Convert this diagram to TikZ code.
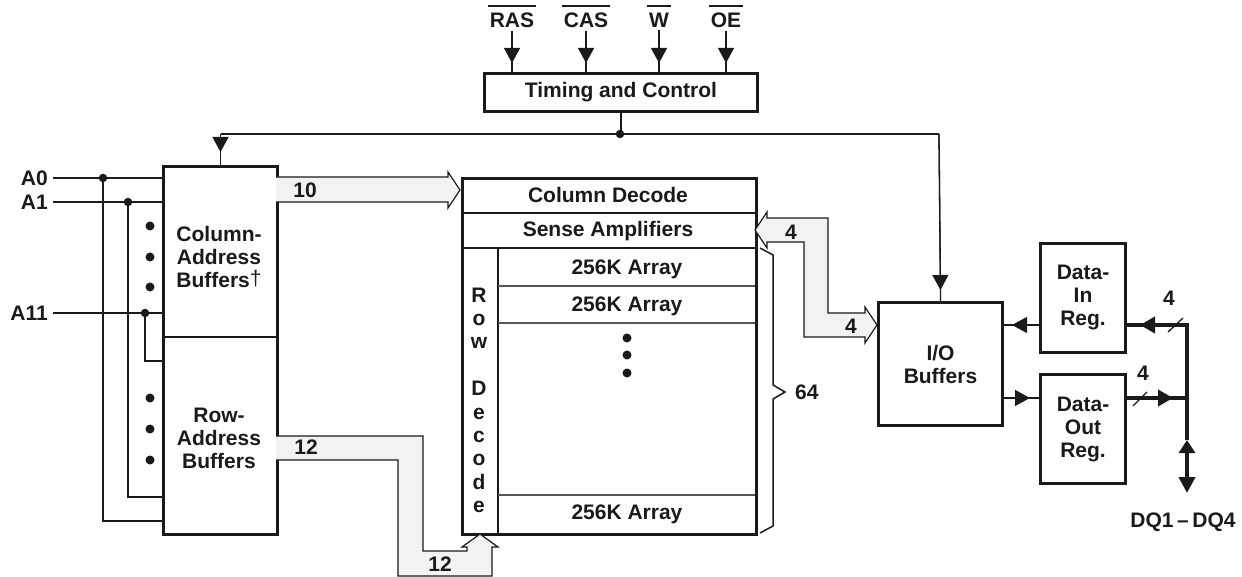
\documentclass[tikz,border=0pt]{standalone}
\usepackage{fontspec}
\setmainfont{Liberation Sans}
\usetikzlibrary{arrows.meta,calc}
\definecolor{ink}{HTML}{1A1A1A}
\definecolor{busfill}{HTML}{F2F2F2}
\definecolor{grid}{HTML}{555555}
\begin{document}
\begin{tikzpicture}[x=1pt,y=-1pt,
  every node/.style={font=\fontsize{21}{23}\selectfont\bfseries, text=ink, inner sep=0pt},
  blk/.style={draw=ink, line width=3pt, anchor=north west, align=center},
  wire/.style={draw=ink, line width=1.3pt},
  thk/.style={draw=ink, line width=4.5pt, line join=miter},
  tri/.style={-{Triangle[width=16pt,length=15pt]}},
  bus/.style={draw=ink, line width=1.2pt, line join=miter},
  busf/.style={fill=busfill},
  jdot/.style={circle, fill=ink, minimum size=8.5pt, inner sep=0pt},
  edot/.style={circle, fill=ink, minimum size=9pt, inner sep=0pt},
  ovl/.style={draw=ink, line width=1.8pt}]
\useasboundingbox (0,0) rectangle (1242,577);

% ---------- Timing and control ----------
\node[blk, minimum width=273pt, minimum height=38pt] (tc) at (483,72) {Timing and Control};
\node (ras) at (512,20) {RAS};
\node (cas) at (586,20) {CAS};
\node (w)   at (659,20) {W};
\node (oe)  at (726,20) {OE};
\foreach \n in {ras,cas,w,oe}{
  \draw[ovl] ([xshift=-2pt,yshift=6.5pt]\n.north west) -- ([xshift=2pt,yshift=6.5pt]\n.north east);
  \draw[wire] ([yshift=-3pt]\n.south) -- (\n.south |- tc.north);
  \draw[wire,tri] ([yshift=-3pt]\n.south) -- ($(\n.south |- tc.north)+(0,-9)$);
}

% ---------- Address buffers ----------
\node[blk, minimum width=114pt, minimum height=368pt] (cab) at (162,165) {};
\draw[ink, line width=1.5pt] (162,337) -- (276,337);
\node[align=center] (cabt) at (219,257) {Column-\\Address\\Buffers\raisebox{2pt}{\fontsize{21}{21}\selectfont\mdseries †}};
\node[align=center] (rabt) at (219,438) {Row-\\Address\\Buffers};

% control distribution
\node[jdot] (jt) at (620,134) {};
\coordinate (cl) at (cab.north |- jt);
\coordinate (cr) at (939,134);
\draw[wire] (tc.south) -- (tc.south |- jt);
\draw[wire] (cl) -- (cr);
\draw[wire] (cl) -- (cab.north);
\draw[wire,tri] (cl) -- ($(cab.north)+(0,-13)$);

% address inputs
\node[anchor=east] (a0)  at (48,178) {A0};
\node[anchor=east] (a1)  at (48,202) {A1};
\node[anchor=east] (a11) at (48,313) {A11};
\node[jdot] (d0)  at (103,178) {};
\node[jdot] (d1)  at (128,202) {};
\node[jdot] (d11) at (145,313) {};
\coordinate (r0)  at (162,521);
\coordinate (r1)  at (162,497);
\coordinate (r11) at (162,361);
\draw[wire] ([xshift=5pt]a0.east)  -- (a0 -| cab.west);
\draw[wire] ([xshift=5pt]a1.east)  -- (a1 -| cab.west);
\draw[wire] ([xshift=5pt]a11.east) -- (a11 -| cab.west);
\draw[wire] (d0.center)  |- (r0);
\draw[wire] (d1.center)  |- (r1);
\draw[wire] (d11.center) |- (r11);
\foreach \yy [count=\i] in {226,257,287,398,429,460}{
  \node[edot] (ed\i) at (150,\yy) {};
}

% ---------- Memory array ----------
\node[blk, minimum width=294pt, minimum height=356pt] (arr) at (461,177) {};
\draw[ink, line width=2pt] (461,213) -- (755,213);
\draw[ink, line width=2pt] (461,248) -- (755,248);
\draw[ink, line width=1.5pt] (498,248) -- (498,533);
\draw[grid, line width=1.2pt] (498,286) -- (755,286);
\draw[grid, line width=1.2pt] (498,323) -- (755,323);
\draw[grid, line width=1.2pt] (498,495) -- (755,495);
\node (cdec) at (608,195) {Column Decode};
\node (samp) at (608,231) {Sense Amplifiers};
\node (ar1) at (627,269) {256K Array};
\node (ar2) at (627,306) {256K Array};
\node (ar3) at (627,514) {256K Array};
\foreach \yy [count=\i] in {338,355,373}{
  \node[edot] (ad\i) at (627,\yy) {};
}
\foreach \ch [count=\k from 0] in {R,o,w,{},D,e,c,o,d,e}{
  \node[anchor=base] (rd\k) at (479,302+23.4*\k) {\ch};
}

% brace 64
\draw[ink, line width=1.5pt, line join=miter] (760,248) -- (773,255) -- (773,385) -- (785,392) -- (773,399) -- (773,526) -- (760,533);
\node[anchor=west] (n64) at (795,392) {64};

% ---------- Buses ----------
% 10
\fill[busf] (276,177) -- (448,177) -- (448,172) -- (460,190) -- (448,208) -- (448,202) -- (276,202) -- cycle;
\draw[bus] (276,177) -- (448,177) -- (448,172) -- (460,190) -- (448,208) -- (448,202) -- (276,202);
\node (b10) at (305,190) {10};
% 12
\fill[busf] (276,436) -- (423,436) -- (423,551) -- (467,551) -- (467,547) -- (462,547) -- (480,534) -- (498,547) -- (492,547) -- (492,576) -- (398,576) -- (398,460) -- (276,460) -- cycle;
\draw[bus] (276,436) -- (423,436) -- (423,551) -- (467,551) -- (467,547) -- (462,547) -- (480,534) -- (498,547) -- (492,547) -- (492,576) -- (398,576) -- (398,460) -- (276,460);
\node (b12a) at (306,447) {12};
\node (b12b) at (440,564) {12};
% 4 (sense amps <-> I/O)
\filldraw[bus, busf] (755,230) -- (767,212) -- (767,218) -- (828,218) -- (828,313) -- (865,313) -- (865,307) -- (877,325) -- (865,343) -- (865,337) -- (804,337) -- (804,242) -- (767,242) -- (767,248) -- cycle;
\node (b4a) at (791,232) {4};
\node (b4b) at (851,326) {4};

% ---------- I/O and data registers ----------
\node[blk, minimum width=124pt, minimum height=123pt] (io) at (877,301) {I/O\\Buffers};
\draw[wire] (cr) -- (io.north);
\draw[wire,tri] (cr) -- ($(io.north)+(0,-11)$);

\node[blk, minimum width=85pt, minimum height=109pt] (din) at (1039,242) {Data-\\In\\Reg.};
\node[blk, minimum width=85pt, minimum height=109pt] (dout) at (1039,373) {Data-\\Out\\Reg.};

\coordinate (yin) at (0,325);
\coordinate (yout) at (0,398);
\draw[wire] (din.west |- yin) -- (io.east |- yin);
\draw[wire,tri] (din.west |- yin) -- (1012,325);
\draw[wire] (io.east |- yout) -- (dout.west |- yout);
\draw[wire,tri] (io.east |- yout) -- (1030,398);

\coordinate (bj) at (1187,325);
\coordinate (bo) at (1187,398);
\coordinate (bu) at (1187,440);
\coordinate (bd) at (1187,493);
\draw[thk] (din.east |- yin) -- (bj) -- (bu);
\draw[thk,tri] (bj) -- (1140,325);
\draw[thk] (dout.east |- yout) -- (bo);
\draw[thk,tri] (dout.east |- yout) -- (1173,398);
\draw[thk,{Triangle[width=16pt,length=13pt]}-{Triangle[width=16pt,length=16pt]}] (bu) -- (bd);
\draw[wire] (1168,332) -- (1183,318);
\draw[wire] (1133,406) -- (1147,392);
\node (b4c) at (1169,298) {4};
\node (b4d) at (1143,373) {4};
\node (dq) at (1183,522) {DQ1\,–\,DQ4};
\end{tikzpicture}
\end{document}
